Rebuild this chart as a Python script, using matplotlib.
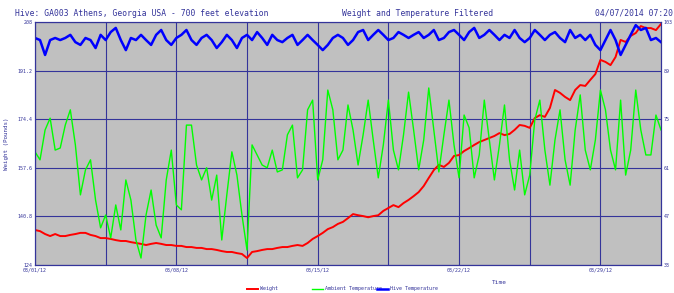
import numpy as np
import matplotlib
matplotlib.use("Agg")
import matplotlib.pyplot as plt

# samples every 6 hours from 03/01/12 00:00
days = np.arange(0, 31.01, 0.25)

weight = [136.1, 135.7, 134.7, 134.0, 134.7, 134.0, 134.0, 134.4, 134.7, 135.1,
          135.1, 134.4, 134.0, 133.3, 133.3, 133.0, 132.6, 132.3, 132.3, 131.9,
          131.6, 131.3, 130.9, 131.3, 131.6, 131.3, 130.9, 130.9, 130.6, 130.6,
          130.2, 130.2, 129.9, 129.9, 129.5, 129.5, 129.2, 128.8, 128.5, 128.5,
          128.1, 127.8, 126.4, 128.5, 128.8, 129.2, 129.5, 129.5, 129.9, 130.2,
          130.2, 130.6, 130.9, 130.6, 131.6, 133.0, 134.0, 135.1, 136.4, 137.1,
          138.2, 138.9, 140.2, 141.6, 141.2, 140.9, 140.5, 140.9, 141.2, 142.7,
          143.7, 144.7, 144.0, 145.4, 146.5, 147.8, 149.2, 151.3, 154.1, 156.8,
          158.6, 157.9, 159.3, 161.7, 162.0, 163.4, 164.4, 165.5, 166.5, 167.2,
          167.9, 168.6, 169.6, 168.9, 169.3, 170.7, 172.4, 172.1, 171.4, 174.8,
          175.8, 175.2, 178.3, 184.5, 183.5, 182.1, 181.0, 184.5, 186.2, 185.9,
          188.0, 190.0, 194.9, 194.2, 193.1, 195.9, 201.8, 201.1, 203.2, 204.2,
          206.6, 205.9, 205.9, 205.2, 207.3]

ambient = [65.6, 63.3, 71.9, 75.3, 66.1, 66.7, 73.3, 77.7, 67.6, 53.2,
           60.4, 63.3, 51.7, 43.7, 47.4, 40.8, 50.3, 43.1, 57.5, 51.7,
           40.2, 35.0, 47.4, 54.6, 44.5, 40.8, 57.5, 66.1, 50.3, 48.9,
           73.3, 73.3, 61.8, 57.5, 61.0, 51.7, 58.9, 40.2, 53.2, 65.6,
           58.9, 47.4, 37.3, 67.6, 64.7, 61.8, 61.0, 66.1, 59.8, 60.4,
           70.5, 73.3, 58.1, 60.4, 77.7, 80.5, 57.5, 63.3, 83.4, 77.7,
           63.3, 66.1, 79.1, 71.9, 61.8, 70.5, 80.5, 69.0, 58.1, 67.6,
           80.5, 66.1, 60.4, 70.5, 82.8, 71.9, 60.4, 69.0, 84.0, 71.9,
           59.8, 70.5, 80.5, 67.6, 58.1, 76.2, 72.5, 58.1, 64.7, 80.5,
           69.0, 57.5, 67.6, 79.1, 63.3, 54.6, 66.1, 53.2, 58.9, 74.8,
           80.5, 66.1, 56.0, 69.0, 77.7, 63.3, 56.0, 71.9, 82.0, 66.1,
           60.4, 69.0, 83.4, 77.7, 66.1, 60.4, 80.5, 58.9, 66.1, 83.4,
           71.9, 64.7, 64.7, 76.2, 71.9]

hive = [98.4, 97.8, 93.5, 97.8, 98.4, 97.8, 98.4, 99.3, 97.2, 96.4,
        98.4, 97.8, 95.5, 99.3, 97.8, 100.1, 101.3, 97.8, 94.9, 98.4,
        97.8, 99.3, 97.8, 96.4, 99.3, 100.7, 97.8, 96.4, 98.4, 99.3,
        100.7, 97.8, 96.4, 98.4, 99.3, 97.8, 95.5, 97.2, 99.3, 97.8,
        95.5, 98.4, 99.3, 97.8, 100.1, 98.4, 96.4, 99.3, 97.8, 97.2,
        98.4, 99.3, 96.4, 97.8, 99.3, 97.8, 96.4, 94.9, 96.4, 98.4,
        99.3, 98.4, 96.4, 97.8, 100.1, 100.7, 97.8, 99.3, 100.7, 99.3,
        97.8, 98.4, 100.1, 99.3, 98.4, 99.3, 100.1, 98.4, 99.3, 100.7,
        97.8, 98.4, 100.1, 100.7, 99.3, 97.8, 100.1, 101.3, 98.4, 99.3,
        100.7, 99.3, 97.8, 99.3, 98.4, 100.7, 98.4, 97.2, 98.4, 100.7,
        99.3, 97.8, 99.3, 100.1, 98.4, 97.2, 100.7, 98.4, 99.3, 97.8,
        99.3, 96.4, 94.9, 97.8, 100.7, 97.8, 93.5, 96.4, 99.3, 102.1,
        100.7, 101.3, 97.8, 98.4, 97.2]

date_labels = ["03/01/12", "03/08/12", "03/15/12", "03/22/12", "03/29/12"]

navy = "#34349a"
plt.rcParams["font.family"] = "DejaVu Sans Mono"

fig = plt.figure(figsize=(6.74, 2.93), dpi=100)
ax = fig.add_axes([0.0519, 0.0956, 0.9288, 0.8293])
ax.set_facecolor("#c0c0c0")
ax2 = ax.twinx()

l1, = ax.plot(days, weight, color="#ff0000", lw=1.4, label="Weight")
l2, = ax2.plot(days, ambient, color="#00ff00", lw=1.0, label="Ambient Temperature")
l3, = ax2.plot(days, hive, color="#0000ff", lw=1.8, label="Hive Temperature")

ax.set_xlim(0, 31)
ax.set_ylim(124, 208)
ax2.set_ylim(33, 103)

xt = np.arange(0, 31, 3.5)
ax.set_xticks(xt)
ax.set_xticklabels([date_labels[i // 2] if i % 2 == 0 else "" for i in range(len(xt))])
ax.set_yticks(np.linspace(124, 208, 6))
ax.set_yticklabels(["124", "140.8", "157.6", "174.4", "191.2", "208"])
ax2.set_yticks(np.linspace(33, 103, 6))
ax2.set_yticklabels(["33", "47", "61", "75", "89", "103"])

ax.grid(True, color=navy, lw=0.8)
ax.set_axisbelow(True)
for a in (ax, ax2):
    a.tick_params(length=0, labelsize=3.6, colors=navy, pad=2)
    for s in a.spines.values():
        s.set_color(navy)
        s.set_linewidth(0.8)

ax.set_ylabel("Weight (Pounds)", fontsize=4.2, color=navy, labelpad=6)
ax.set_xlabel("Time", fontsize=4.4, color=navy, labelpad=4)
ax.xaxis.set_label_coords(0.742, -0.06)

fig.text(0.022, 0.955, "Hive: GA003 Athens, Georgia USA - 700 feet elevation",
         fontsize=5.8, color=navy, va="center")
fig.text(0.62, 0.955, "Weight and Temperature Filtered",
         fontsize=5.8, color=navy, va="center", ha="center")
fig.text(0.999, 0.955, "04/07/2014 07:20", fontsize=5.8, color=navy,
         va="center", ha="right")

for h, x in ((l1, 0.366), (l2, 0.463), (l3, 0.56)):
    fig.legend(handles=[h], loc="center left",
               bbox_to_anchor=(x, 0.014), frameon=False, fontsize=3.6,
               handlelength=2.2, handletextpad=0.4, borderaxespad=0, borderpad=0,
               labelcolor=navy)

fig.savefig("out.png", dpi=100)
